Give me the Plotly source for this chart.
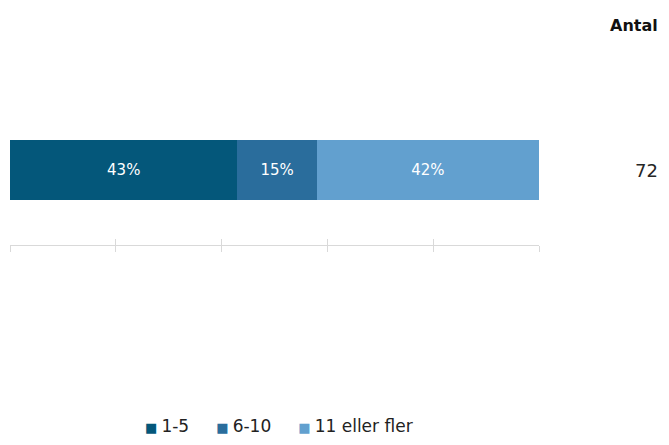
import plotly.graph_objects as go

categories = [""]
series_names = ["1-5", "6-10", "11 eller fler"]
series_values = [[0.43], [0.15], [0.42]]
series_labels = [["43%"], ["15%"], ["42%"]]
colors = ["#04577A", "#2A6D9C", "#62A0CF"]
antal_header = "Antal"
antal_values = ["72"]
tick_vals = [0, 0.2, 0.4, 0.6, 0.8, 1.0]

FONT = "DejaVu Sans"

fig = go.Figure()
for name, vals, labs, col in zip(series_names, series_values, series_labels, colors):
    fig.add_trace(go.Bar(
        y=categories, x=vals, name=name, orientation="h",
        marker=dict(color=col, line=dict(width=0)),
        text=labs, textposition="inside", insidetextanchor="middle",
        textfont=dict(color="#FFFFFF", size=15, family=FONT),
        width=0.4, hoverinfo="skip", showlegend=False,
    ))

# invisible trace on second x axis to render inside ticks
fig.add_trace(go.Scatter(x=[0, 1], y=categories * 2, xaxis="x2", mode="markers",
                         marker=dict(opacity=0), showlegend=False, hoverinfo="skip"))

# the page keeps the browser's 8px body margin, so the figure fills the rest of the window
fig.update_layout(
    width=653, height=429,
    barmode="stack",
    margin=dict(l=2, r=122, t=87, b=192, autoexpand=False),
    paper_bgcolor="white", plot_bgcolor="white",
    font=dict(family=FONT, color="#222222"),
    xaxis=dict(range=[0, 1], tickvals=tick_vals, showticklabels=False,
               showgrid=False, zeroline=False, showline=True, linecolor="#D9D9D9",
               linewidth=1, ticks="outside", ticklen=6, tickcolor="#D9D9D9", tickwidth=1,
               fixedrange=True),
    xaxis2=dict(range=[0, 1], tickvals=tick_vals, showticklabels=False, overlaying="x",
                side="bottom", anchor="y", showgrid=False, zeroline=False, showline=False,
                ticks="inside", ticklen=6, tickcolor="#D9D9D9", tickwidth=1),
    yaxis=dict(range=[-0.5, 0.5], showticklabels=False, showgrid=False, zeroline=False,
               showline=False, ticks=""),
    showlegend=False,
)

# legend drawn as one line of text: coloured square + series name
gap = "&nbsp;" * 5
legend_text = gap.join(
    '<span style="color:%s;font-size:13px">■ </span>%s' % (c, n)
    for n, c in zip(series_names, colors)
)
fig.add_annotation(xref="paper", yref="paper", x=0.5076, y=-1.207, text=legend_text,
                   showarrow=False, xanchor="center", yanchor="middle",
                   font=dict(size=17, family=FONT, color="#222222"))

fig.add_annotation(xref="paper", yref="paper", x=1.229, y=1.0, yshift=70,
                   text="<b>" + antal_header + "</b>", showarrow=False,
                   xanchor="right", yanchor="middle",
                   font=dict(size=16, family=FONT, color="#111111"))
for cat, val in zip(categories, antal_values):
    fig.add_annotation(xref="paper", yref="y", x=1.229, y=cat, text=val,
                       showarrow=False, xanchor="right", yanchor="middle",
                       font=dict(size=18, family=FONT, color="#262626"))

fig.write_html("out.html")
